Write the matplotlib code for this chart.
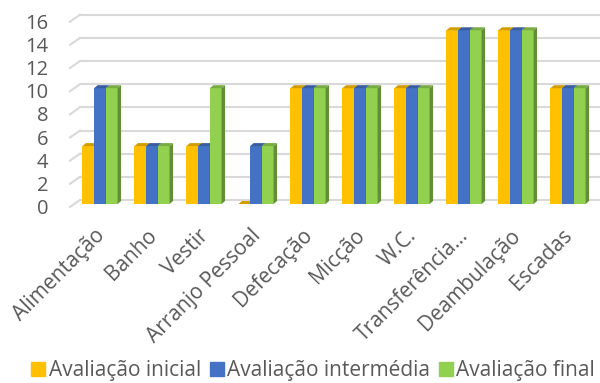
import numpy as np
import matplotlib
matplotlib.use("Agg")
from matplotlib import pyplot as plt
from matplotlib import transforms
from matplotlib.patches import Polygon
from matplotlib.lines import Line2D

categorias = ["Alimentação", "Banho", "Vestir", "Arranjo Pessoal", "Defecação",
              "Micção", "W.C.", "Transferência...", "Deambulação", "Escadas"]
series = ["Avaliação inicial", "Avaliação intermédia", "Avaliação final"]
inicial = [5, 5, 5, 0, 10, 10, 10, 15, 15, 10]
intermedia = [10, 5, 5, 5, 10, 10, 10, 15, 15, 10]
final = [10, 5, 10, 5, 10, 10, 10, 15, 15, 10]
valores = [inicial, intermedia, final]
cores = ["#FFC000", "#4472C4", "#92D050"]
yticks = [0, 2, 4, 6, 8, 10, 12, 14, 16]

plt.rcParams["font.family"] = ["Open Sans", "DejaVu Sans"]
cinza = "#595959"

fig = plt.figure(figsize=(6, 3.83), dpi=100)
W, H = 600, 383
# front plane of the 3d box in pixels
x0, x1 = 70, 600
y_bot, y_top = 207, 21.7
ax = fig.add_axes([x0 / W, 1 - y_bot / H, (x1 - x0) / W, (y_bot - y_top) / H])
ax.set_xlim(-0.577, 9.615)
ax.set_ylim(0, 16)
for s in ax.spines.values():
    s.set_visible(False)

# pixel -> data conversions
px_x = (9.615 + 0.577) / (x1 - x0)
px_y = 16 / (y_bot - y_top)

# back wall gridlines
wall_dx, wall_dy = 10 * px_x, 7 * px_y
for t in yticks:
    ax.plot([-0.577 + wall_dx, 9.615], [t + wall_dy, t + wall_dy],
            color="#D9D9D9", lw=1.5, zorder=1, clip_on=False)
    ax.plot([-0.577, -0.577 + wall_dx], [t, t + wall_dy],
            color="#D9D9D9", lw=1.5, zorder=1, clip_on=False)

def escurecer(c, f):
    r, g, b = matplotlib.colors.to_rgb(c)
    return (r * f, g * f, b * f)

# bars with a small depth
largura = 0.225
off_y = 3 * px_y
dep_x, dep_y = 3.5 * px_x, 3 * px_y
x = np.arange(len(categorias))
for i, (vals, cor) in enumerate(zip(valores, cores)):
    xs = x + (i - 1) * largura
    ax.bar(xs, vals, largura, bottom=off_y, color=cor, zorder=3 + i, lw=0)
    for xc, v in zip(xs, vals):
        l, r = xc - largura / 2, xc + largura / 2
        b, t = off_y, off_y + v
        side = Polygon([(r, b), (r + dep_x, b + dep_y), (r + dep_x, t + dep_y), (r, t)],
                       closed=True, color=escurecer(cor, 0.68), lw=0, zorder=3 + i)
        top = Polygon([(l, t), (r, t), (r + dep_x, t + dep_y), (l + dep_x, t + dep_y)],
                      closed=True, color=escurecer(cor, 0.82), lw=0, zorder=3 + i)
        ax.add_patch(side)
        ax.add_patch(top)

# y labels
ax.set_yticks(yticks)
ax.set_yticklabels([])
ax.tick_params(axis="y", length=0)
ylab_trans = transforms.blended_transform_factory(ax.transAxes, ax.transData)
for t in yticks:
    ax.text(-22 / (x1 - x0), t - 2 * px_y, str(t), transform=ylab_trans,
            ha="right", va="center", fontsize=14.5, color=cinza)

ax.set_xticks(x)
ax.set_xticklabels(categorias, fontsize=15, color=cinza, rotation=45,
                   ha="right", va="top", rotation_mode="anchor")
ax.tick_params(axis="x", length=0, pad=13)
shift = transforms.ScaledTranslation(-6 / 100, 0, fig.dpi_scale_trans)
for lab in ax.get_xticklabels():
    lab.set_transform(lab.get_transform() + shift)

handles = [Line2D([], [], marker="s", ls="", color=c, markersize=10) for c in cores]
fig.legend(handles, series, loc="center", bbox_to_anchor=(0.52, 0.033), ncol=3,
           frameon=False, fontsize=15, labelcolor=cinza, handletextpad=0.05,
           columnspacing=0.3, handlelength=0.9)

fig.savefig("out.png", dpi=100)
